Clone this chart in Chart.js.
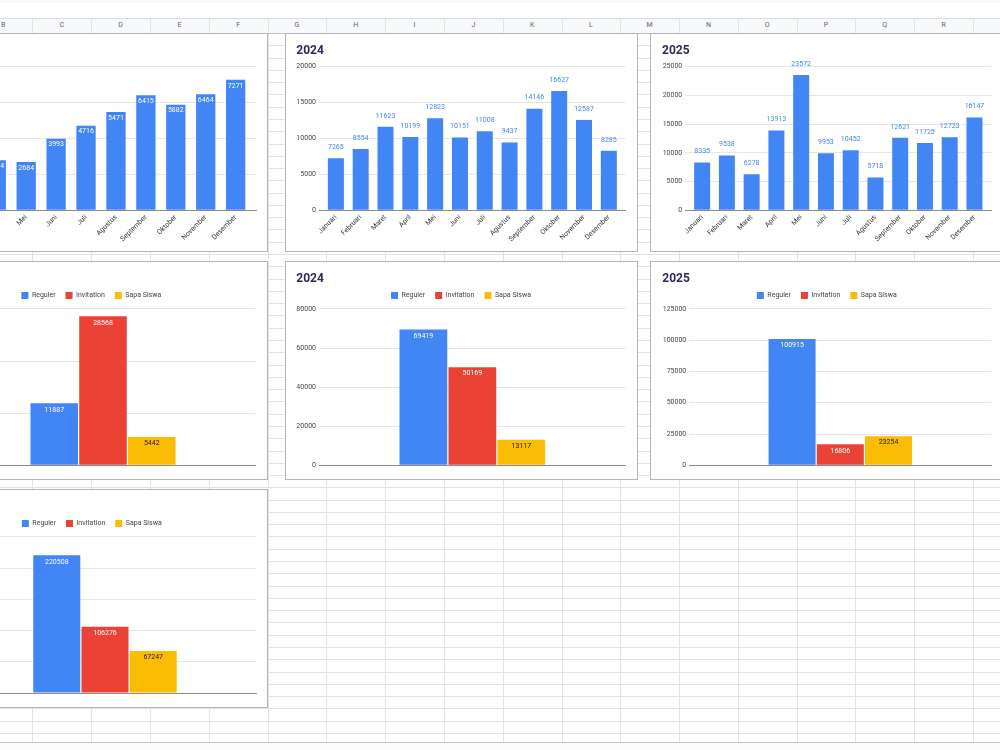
<!DOCTYPE html>
<html>
<head>
<meta charset="utf-8">
<script src="https://cdn.jsdelivr.net/npm/chart.js@4.4.1/dist/chart.umd.min.js"></script>
<style>
html,body{margin:0;padding:0;width:1000px;height:750px;overflow:hidden;background:#fff;font-family:Roboto,Arial,sans-serif}
#sheet{position:absolute;left:0;top:0;width:1000px;height:750px}
.vl{position:absolute;width:1px;background:#e2e3e3}
.hl{position:absolute;height:1px;background:#e2e3e3}
.colhdr{position:absolute;top:18px;height:15px;line-height:15px;font-size:7px;color:#5f6368;text-align:center}
.box{position:absolute;width:353px;height:219px;background:#fff;border:1px solid #b5b5b5;box-sizing:border-box;z-index:2}
.box canvas{position:absolute;left:0;top:0}
</style>
</head>
<body>
<div id="sheet"></div>
<script>
// ---------------- DATA ----------------
const months = ['Januari','Februari','Maret','April','Mei','Juni','Juli','Agustus','September','Oktober','November','Desember'];
const months2023 = ['Maret','April','Mei','Juni','Juli','Agustus','September','Oktober','November','Desember'];
const visits2023 = [207, 2794, 2684, 3993, 4716, 5471, 6415, 5882, 6464, 7271];
const visits2024 = [7265, 8554, 11623, 10199, 12823, 10151, 11008, 9437, 14146, 16627, 12587, 8285];
const visits2025 = [8335, 9538, 6278, 13913, 23572, 9953, 10452, 5718, 12621, 11725, 12723, 16147];

const categories = ['Reguler', 'Invitation', 'Sapa Siswa'];
const cat2023 = [11887, 28568, 5442];
const cat2024 = [69419, 50169, 13117];
const cat2025 = [100915, 16806, 23254];
const catTotal = [220508, 106276, 67247];

const yTicks2023 = [0, 2000, 4000, 6000, 8000];
const yTicks2024 = [0, 5000, 10000, 15000, 20000];
const yTicks2025 = [0, 5000, 10000, 15000, 20000, 25000];
const yTicksCat2023 = [0, 10000, 20000, 30000];
const yTicksCat2024 = [0, 20000, 40000, 60000, 80000];
const yTicksCat2025 = [0, 25000, 50000, 75000, 100000, 125000];
const yTicksCatTotal = [0, 50000, 100000, 150000, 200000, 250000];

const colLetters = ['B','C','D','E','F','G','H','I','J','K','L','M','N','O','P','Q','R','S'];

// ---------------- STYLE ----------------
const BLUE = '#4285f4', RED = '#ea4335', YELLOW = '#fbbc04';
const catColors = [BLUE, RED, YELLOW];
const GRID = '#e6e6e6', AXIS = '#8c8c8c', TITLE_COLOR = '#2e2a5a';
const CW = 351, CH = 217;

// ---------------- SPREADSHEET BACKGROUND ----------------
(function buildSheet(){
  const sheet = document.getElementById('sheet');
  function add(cls, st){ const d=document.createElement('div'); d.className=cls; Object.assign(d.style, st); sheet.appendChild(d); return d; }
  add('', {position:'absolute', left:'0px', top:'1px', width:'1000px', height:'1px', background:'#f1f1f1'});
  add('', {position:'absolute', left:'0px', top:'18px', width:'1000px', height:'15px', background:'#f8f9fa'});
  add('hl', {left:'0px', top:'18px', width:'1000px', background:'#dadce0'});
  const x0 = -26.3, w = 58.78;
  colLetters.forEach((L, k) => {
    const xl = x0 + k*w;
    const h = add('colhdr', {left: xl+'px', width: w+'px'});
    h.textContent = L;
    add('vl', {left: Math.round(xl + w)+'px', top:'18px', height:'724px'});
  });
  for (let y = 33 + 12.28; y < 741; y += 12.28) add('hl', {left:'0px', top: Math.round(y)+'px', width:'1000px'});
  add('hl', {left:'0px', top:'33px', width:'1000px', background:'#c4c7c5'});
  add('hl', {left:'0px', top:'742px', width:'1000px', background:'#c8c8c8'});
  add('', {position:'absolute', left:'0px', top:'743px', width:'1000px', height:'7px', background:'#fbfbfb'});
})();

// ---------------- CHARTS ----------------
Chart.defaults.font.family = "Roboto, 'Liberation Sans', Arial, sans-serif";
Chart.defaults.font.size = 7;
Chart.defaults.color = '#444';
Chart.defaults.animation = false;
Chart.defaults.responsive = false;
Chart.defaults.devicePixelRatio = 1;

const valueLabels = {
  id: 'valueLabels',
  afterDatasetsDraw(chart, args, opts) {
    const ctx = chart.ctx;
    ctx.save();
    ctx.font = "7px Roboto, 'Liberation Sans', Arial, sans-serif";
    ctx.textAlign = 'center';
    ctx.textBaseline = 'middle';
    chart.data.datasets.forEach((ds, di) => {
      const meta = chart.getDatasetMeta(di);
      meta.data.forEach((bar, i) => {
        const p = meta.controller.getParsed(i);
        const v = p[meta.vScale.axis];
        ctx.fillStyle = opts.colors ? opts.colors[di] : opts.color;
        const y = opts.inside ? bar.y + opts.offset : bar.y - opts.offset;
        ctx.fillText(String(v), bar.x, y);
      });
    });
    ctx.restore();
  }
};

function makeCanvas(left, top) {
  const box = document.createElement('div');
  box.className = 'box';
  box.style.left = left + 'px';
  box.style.top = top + 'px';
  const c = document.createElement('canvas');
  c.width = CW; c.height = CH;
  c.style.width = CW + 'px'; c.style.height = CH + 'px';
  box.appendChild(c);
  document.body.appendChild(box);
  return c;
}

function yScale(ticks, area) {
  return {
    min: ticks[0], max: ticks[ticks.length - 1],
    grid: { color: c => (c.tick && c.tick.value === 0) ? AXIS : GRID, drawTicks: false, lineWidth: 1 },
    border: { display: false },
    afterBuildTicks: s => { s.ticks = ticks.map(v => ({ value: v })); },
    afterFit: s => { s.width = area.left - area.padL; },
    ticks: { padding: 3, color: '#444', callback: v => String(v) }
  };
}

function monthlyChart(canvas, labels, values, yTicks, title, area, labelOpts) {
  const pad = 0.18;
  return new Chart(canvas, {
    type: 'bar',
    data: {
      datasets: [{
        data: values.map((v, i) => ({ x: i, y: v })),
        backgroundColor: BLUE,
        categoryPercentage: 1,
        barPercentage: 0.645
      }]
    },
    options: {
      layout: { padding: { left: area.padL, right: CW - area.right, top: title ? 0 : area.top, bottom: 0 } },
      plugins: {
        legend: { display: false },
        tooltip: { enabled: false },
        title: title ? {
          display: true, text: title, align: 'start', color: TITLE_COLOR,
          font: { size: 12, weight: 'bold' },
          padding: { top: 9.5, bottom: area.top - 9.5 - 14.4 }
        } : { display: false },
        valueLabels: labelOpts
      },
      scales: {
        x: {
          type: 'linear', min: -0.5 - pad, max: labels.length - 0.5 + pad, offset: false, bounds: 'data',
          grid: { display: false, drawTicks: false },
          border: { display: true, color: AXIS, width: 1 },
          afterBuildTicks: s => { s.ticks = labels.map((_, i) => ({ value: i })); },
          afterFit: s => { s.height = CH - area.bottom; },
          ticks: { autoSkip: false, minRotation: 45, maxRotation: 45, padding: 3, color: '#333', callback: v => labels[v] }
        },
        y: yScale(yTicks, area)
      }
    },
    plugins: [valueLabels]
  });
}

function categoryChart(canvas, values, yTicks, title, area) {
  return new Chart(canvas, {
    type: 'bar',
    data: {
      labels: [''],
      datasets: categories.map((c, i) => ({
        label: c, data: [values[i]], backgroundColor: catColors[i],
        categoryPercentage: 0.479, barPercentage: 0.975
      }))
    },
    options: {
      layout: { padding: { left: area.padL, right: CW - area.right, top: title ? 0 : 19.9, bottom: 0 } },
      plugins: {
        tooltip: { enabled: false },
        title: title ? {
          display: true, text: title, align: 'start', color: TITLE_COLOR,
          font: { size: 12, weight: 'bold' },
          padding: { top: 9.5, bottom: -4.0 }
        } : { display: false },
        legend: {
          display: true, position: 'top', align: 'center',
          labels: { boxWidth: 7, boxHeight: 7, padding: 10, color: '#444', font: { size: 7 } }
        },
        valueLabels: { inside: true, offset: 6.5, colors: ['#ffffff', '#ffffff', '#222222'] }
      },
      scales: {
        x: {
          grid: { display: false, drawTicks: false },
          border: { display: true, color: AXIS, width: 1 },
          ticks: { display: false },
          afterFit: s => { s.height = CH - area.bottom; }
        },
        y: yScale(yTicks, area)
      }
    },
    plugins: [valueLabels]
  });
}

// Top row: monthly charts
monthlyChart(makeCanvas(-85, 33), months2023, visits2023, yTicks2023, null,
  { padL: 11, left: 30, right: 340, top: 32.7, bottom: 176.3 },
  { inside: true, offset: 6, color: '#ffffff' });
monthlyChart(makeCanvas(285, 33), months, visits2024, yTicks2024, '2024',
  { padL: 10.3, left: 33, right: 339.7, top: 32.7, bottom: 176.3 },
  { inside: false, offset: 11, color: BLUE });
monthlyChart(makeCanvas(650, 33), months, visits2025, yTicks2025, '2025',
  { padL: 11, left: 34.3, right: 340.3, top: 32.7, bottom: 176.3 },
  { inside: false, offset: 11, color: BLUE });

// Middle row: category charts
categoryChart(makeCanvas(-85, 261), cat2023, yTicksCat2023, null,
  { padL: 11, left: 34.3, right: 339.7, bottom: 203.3 });
categoryChart(makeCanvas(285, 261), cat2024, yTicksCat2024, '2024',
  { padL: 10.3, left: 33, right: 339.7, bottom: 203.3 });
categoryChart(makeCanvas(650, 261), cat2025, yTicksCat2025, '2025',
  { padL: 11.3, left: 38.3, right: 340.3, bottom: 203.3 });

// Bottom row: totals
categoryChart(makeCanvas(-85, 489), catTotal, yTicksCatTotal, null,
  { padL: 11.6, left: 38, right: 340, bottom: 203 });
</script>
</body>
</html>
